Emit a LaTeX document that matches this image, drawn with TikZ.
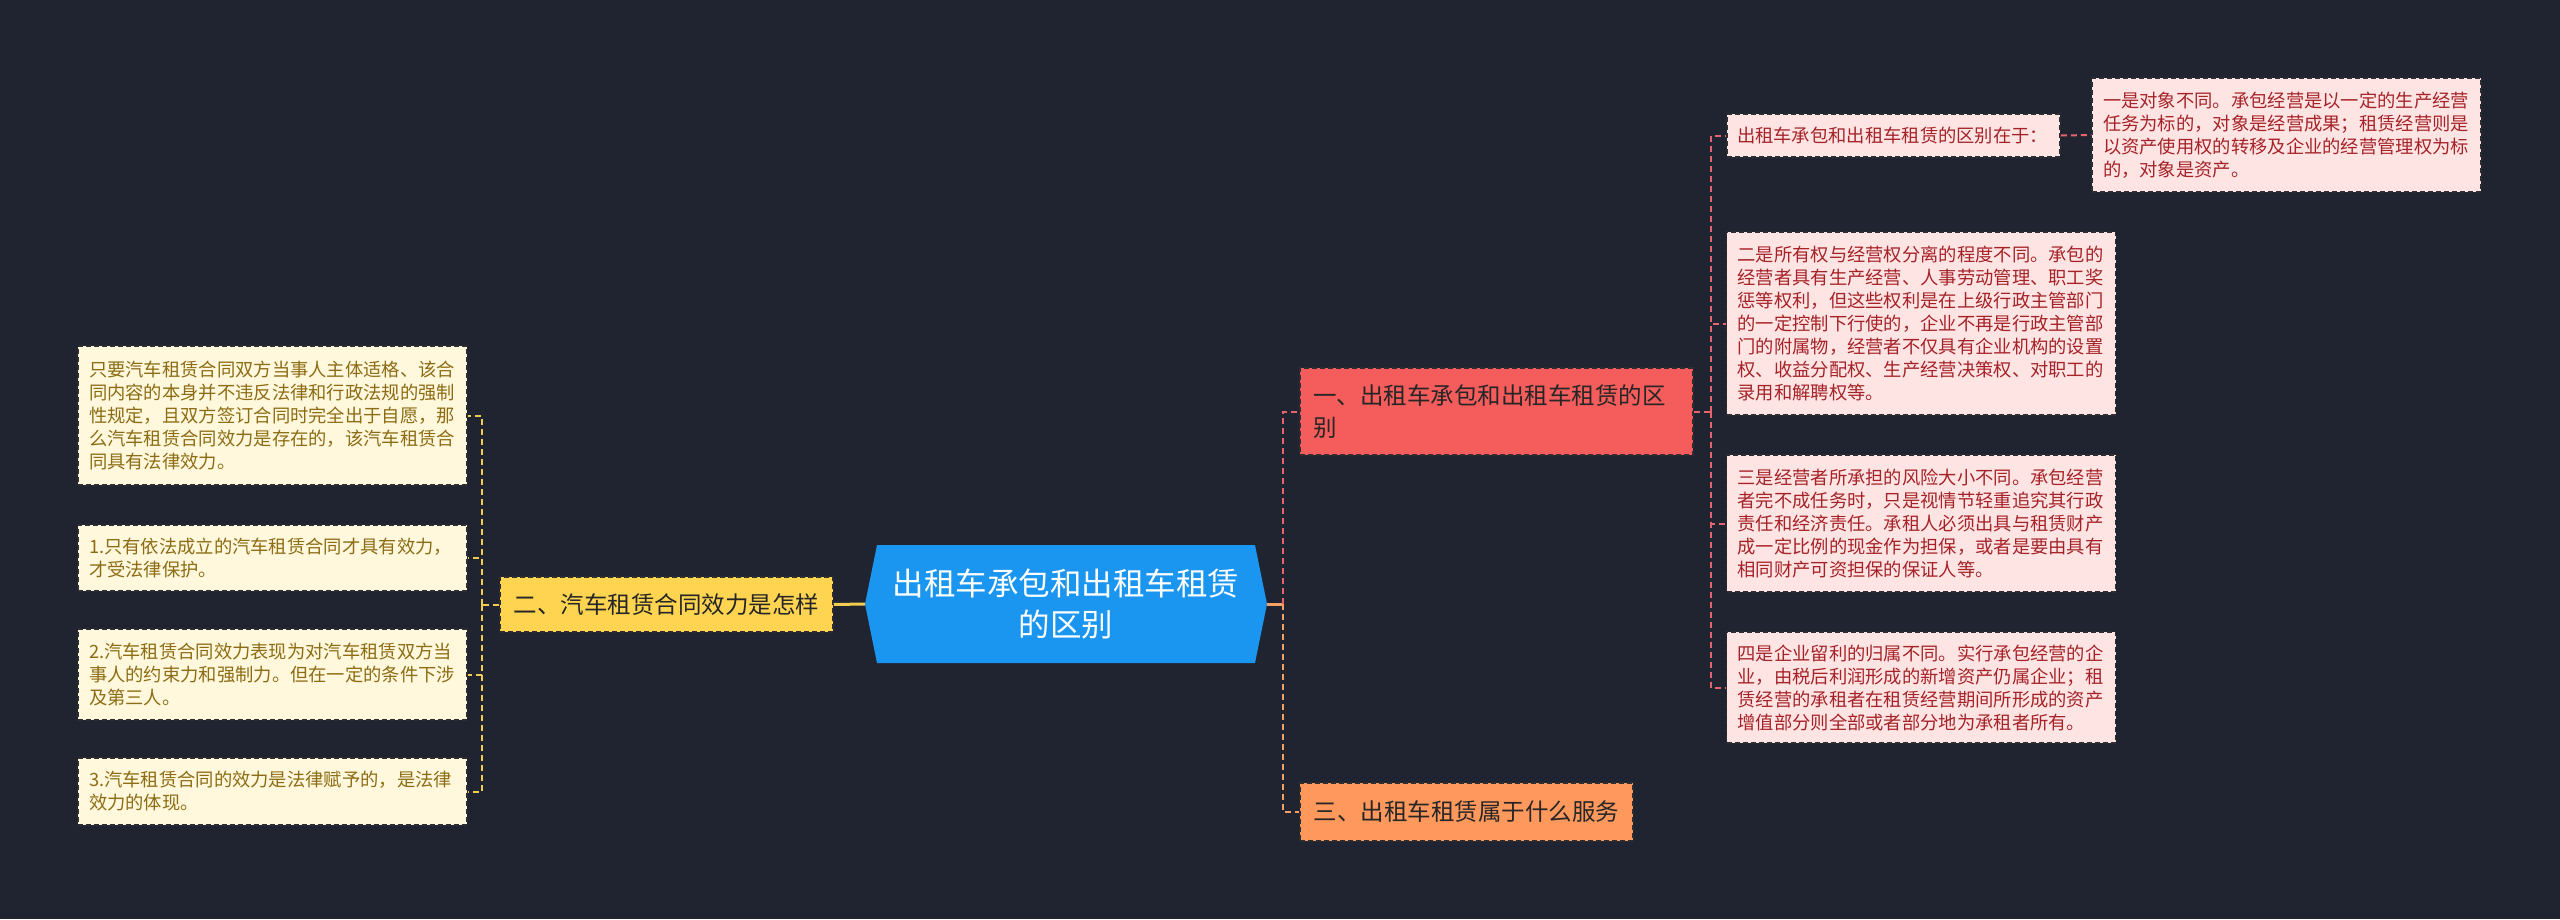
\documentclass[tikz,border=0pt]{standalone}
\usepackage{fontspec}
\setmainfont{Noto Sans CJK SC}
\usetikzlibrary{shapes.symbols}

\definecolor{bgdark}{RGB}{32,36,48}
\definecolor{rootblue}{RGB}{26,150,240}
\definecolor{branchyellow}{RGB}{255,212,80}
\definecolor{branchred}{RGB}{245,92,92}
\definecolor{branchorange}{RGB}{255,152,92}
\definecolor{leafcream}{RGB}{255,248,220}
\definecolor{leafcreamtext}{RGB}{140,108,20}
\definecolor{leafpink}{RGB}{255,228,228}
\definecolor{leafpinktext}{RGB}{165,35,40}
\definecolor{boxedge}{RGB}{45,45,50}
\definecolor{linkyellow}{RGB}{240,205,80}
\definecolor{linkred}{RGB}{230,100,110}
\definecolor{linkorange}{RGB}{245,160,100}

\begin{document}
\begin{tikzpicture}[x=1pt, y=-1pt,
    boxline/.style = {draw=boxedge, line width=1.5pt, dash pattern=on 5pt off 3pt},
    leafbox/.style = {boxline, text width=367pt, inner xsep=11pt, inner ysep=0pt, align=left,
                      font=\fontsize{18.3}{23}\selectfont},
    creamleaf/.style = {leafbox, fill=leafcream, text=leafcreamtext},
    pinkleaf/.style = {leafbox, fill=leafpink, text=leafpinktext},
    branchbox/.style = {boxline, inner sep=0pt, text=black!85, font=\fontsize{23.5}{32}\selectfont},
    link/.style = {line width=2pt, dash pattern=on 6pt off 4pt},
    ylink/.style = {link, draw=linkyellow},
    rlink/.style = {link, draw=linkred},
    olink/.style = {link, draw=linkorange}]

    \fill[bgdark] (0,0) rectangle (2560,919);
    \useasboundingbox (0,0) rectangle (2560,919);

    {
        \node[signal, signal to=east and west, signal pointer angle=157, fill=rootblue, text=white,
              minimum width=402pt, minimum height=118pt, inner sep=0pt, align=center,
              font=\fontsize{31.5}{41}\selectfont] (root) at (1066,604) {出租车承包和出租车租赁\\的区别};

        \node[branchbox, fill=branchyellow, minimum width=333pt, minimum height=55pt] (two) at (666.5,604.5) {二、汽车租赁合同效力是怎样};
        \node[branchbox, fill=branchred, text width=367pt, inner xsep=13pt, minimum height=87pt, align=left] (one) at (1496.5,411.5) {一、出租车承包和出租车租赁的区\\别};
        \node[branchbox, fill=branchorange, minimum width=333pt, minimum height=58pt] (three) at (1466.5,812) {三、出租车租赁属于什么服务};

        \node[creamleaf, minimum height=139pt] (l1) at (272.5,415.5) {只要汽车租赁合同双方当事人主体适格、该合\\同内容的本身并不违反法律和行政法规的强制\\性规定，且双方签订合同时完全出于自愿，那\\么汽车租赁合同效力是存在的，该汽车租赁合\\同具有法律效力。};
        \node[creamleaf, minimum height=66pt] (l2) at (272.5,558) {1.只有依法成立的汽车租赁合同才具有效力，\\才受法律保护。};
        \node[creamleaf, minimum height=91pt] (l3) at (272.5,674.5) {2.汽车租赁合同效力表现为对汽车租赁双方当\\事人的约束力和强制力。但在一定的条件下涉\\及第三人。};
        \node[creamleaf, minimum height=67pt] (l4) at (272.5,791.5) {3.汽车租赁合同的效力是法律赋予的，是法律\\效力的体现。};

        \node[pinkleaf, text width=313pt, inner xsep=10pt, minimum height=43pt] (ra) at (1893.5,135.5) {出租车承包和出租车租赁的区别在于：};
        \node[pinkleaf, minimum height=114pt] (rb) at (2286.5,135) {一是对象不同。承包经营是以一定的生产经营\\任务为标的，对象是经营成果；租赁经营则是\\以资产使用权的转移及企业的经营管理权为标\\的，对象是资产。};
        \node[pinkleaf, minimum height=183pt] (rc) at (1921,323.5) {二是所有权与经营权分离的程度不同。承包的\\经营者具有生产经营、人事劳动管理、职工奖\\惩等权利，但这些权利是在上级行政主管部门\\的一定控制下行使的，企业不再是行政主管部\\门的附属物，经营者不仅具有企业机构的设置\\权、收益分配权、生产经营决策权、对职工的\\录用和解聘权等。};
        \node[pinkleaf, minimum height=137pt] (rd) at (1921,523.5) {三是经营者所承担的风险大小不同。承包经营\\者完不成任务时，只是视情节轻重追究其行政\\责任和经济责任。承租人必须出具与租赁财产\\成一定比例的现金作为担保，或者是要由具有\\相同财产可资担保的保证人等。};
        \node[pinkleaf, minimum height=111pt] (re) at (1921,687.5) {四是企业留利的归属不同。实行承包经营的企\\业，由税后利润形成的新增资产仍属企业；租\\赁经营的承租者在租赁经营期间所形成的资产\\增值部分则全部或者部分地为承租者所有。};

        \coordinate (lj) at (482,604.5);
        \coordinate (rj) at (1283,604);
        \coordinate (pj) at (1711,411.5);
    }

    \draw[linkyellow, line width=3pt] (two.east) -- (root.west);
    \draw[ylink] (two.west) -- (lj);
    \draw[ylink] (lj) |- (l1.east);
    \draw[ylink] (lj) |- (l2.east);
    \draw[ylink] (lj) |- (l3.east);
    \draw[ylink] (lj) |- (l4.east);

    \draw[linkorange, line width=3pt] (root.east) -- (rj);
    \draw[rlink] (rj) |- (one.west);
    \draw[olink] (rj) |- (three.west);

    \draw[rlink] (one.east) -- (pj);
    \draw[rlink] (pj) |- (ra.west);
    \draw[rlink] (pj) |- (rc.west);
    \draw[rlink] (pj) |- (rd.west);
    \draw[rlink] (pj) |- (re.west);
    \draw[rlink] (ra.east) -- (rb.west);

\end{tikzpicture}
\end{document}
